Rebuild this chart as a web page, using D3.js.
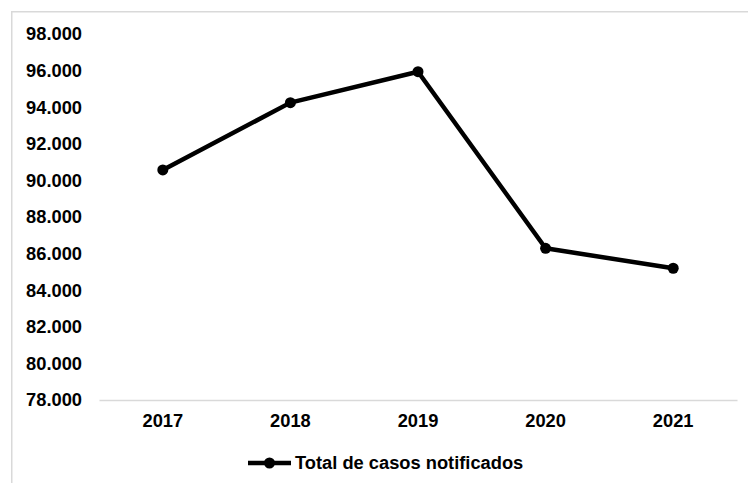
<!DOCTYPE html>
<html>
<head>
<meta charset="utf-8">
<script src="https://cdn.jsdelivr.net/npm/d3@7"></script>
<style>
  body { margin: 0; background: #fff; }
  text { font-family: "Liberation Sans", Arial, sans-serif; font-weight: bold; fill: #000; }
</style>
</head>
<body>
<div id="chart"></div>
<script>
// data
var years = ["2017", "2018", "2019", "2020", "2021"];
var casos = [90570, 94250, 95940, 86290, 85200];
var yTicks = [78000, 80000, 82000, 84000, 86000, 88000, 90000, 92000, 94000, 96000, 98000];
var seriesName = "Total de casos notificados";

var W = 748, H = 483;
var fontSize = "18.3px";
var svg = d3.select("#chart").append("svg")
  .attr("width", W)
  .attr("height", H);

// chart area border (light gray, runs off the right/bottom edge)
svg.append("rect")
  .attr("x", 11.75).attr("y", 11.75)
  .attr("width", 760).attr("height", 500)
  .attr("fill", "none")
  .attr("stroke", "#d9d9d9")
  .attr("stroke-width", 1.5);

var xScale = d3.scaleBand()
  .domain(years)
  .range([99, 737]);

var yScale = d3.scaleLinear()
  .domain([78000, 98000])
  .range([400, 34]);

var fmt = function(d) { return d3.format(",")(d).replace(/,/g, "."); };

// y labels (no axis line)
svg.selectAll(".ylab")
  .data(yTicks)
  .enter()
  .append("text")
  .attr("class", "ylab")
  .attr("x", 82)
  .attr("y", function(d) { return yScale(d); })
  .attr("dy", "0.35em")
  .attr("text-anchor", "end")
  .style("font-size", fontSize)
  .text(fmt);

// x axis
var xAxis = svg.append("g")
  .attr("transform", "translate(0,400)")
  .call(d3.axisBottom(xScale).tickSize(0).tickPadding(14));
xAxis.select(".domain").attr("stroke", "#d9d9d9").attr("stroke-width", 1.5);
xAxis.selectAll("text")
  .style("font-size", fontSize)
  .style("font-family", "'Liberation Sans', Arial, sans-serif")
  .style("font-weight", "bold")
  .attr("fill", "#000");

var xc = function(d, i) { return xScale(years[i]) + xScale.bandwidth() / 2; };

var line = d3.line()
  .x(xc)
  .y(function(d) { return yScale(d); });

svg.append("path")
  .datum(casos)
  .attr("d", line)
  .attr("fill", "none")
  .attr("stroke", "#000")
  .attr("stroke-width", 4.5)
  .attr("stroke-linejoin", "round");

svg.selectAll(".pt")
  .data(casos)
  .enter()
  .append("circle")
  .attr("class", "pt")
  .attr("cx", xc)
  .attr("cy", function(d) { return yScale(d); })
  .attr("r", 5.5)
  .attr("fill", "#000");

// legend
var leg = svg.append("g").attr("transform", "translate(248,463)");
leg.append("line")
  .attr("x1", 0).attr("x2", 43)
  .attr("y1", 0).attr("y2", 0)
  .attr("stroke", "#000")
  .attr("stroke-width", 4.5);
leg.append("circle")
  .attr("cx", 21.5).attr("cy", 0)
  .attr("r", 5.5)
  .attr("fill", "#000");
leg.append("text")
  .attr("x", 47)
  .attr("y", 0)
  .attr("dy", "0.35em")
  .style("font-size", fontSize)
  .text(seriesName);
</script>
</body>
</html>
